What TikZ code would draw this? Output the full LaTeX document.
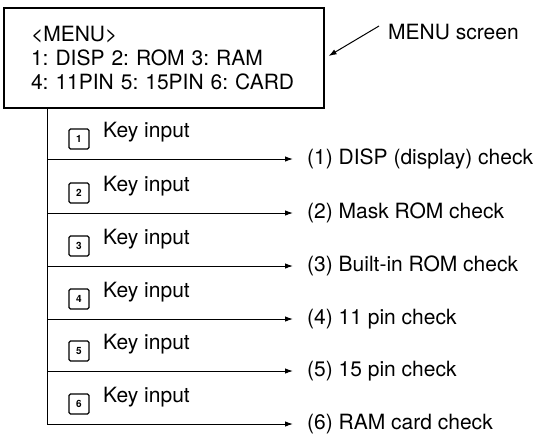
\documentclass[tikz,border=0pt]{standalone}
\usepackage{fontspec}
\setmainfont{TeX Gyre Heros}
\usetikzlibrary{arrows.meta}
\frenchspacing

\begin{document}
\begin{tikzpicture}[x=1pt, y=-1pt, % Scale to match pixel units
    txt/.style={font=\fontsize{21}{24}\selectfont, inner sep=0pt},
    keybox/.style={draw, line width=1.1pt, rounded corners=1.5pt, minimum size=20pt,
        inner sep=0pt, font=\fontsize{10}{12}\selectfont\bfseries},
    flow/.style={line width=1pt, -{Latex[length=8pt,width=5.5pt]}}]

    \useasboundingbox (0,0) rectangle (537,437);

    % Define spine position and row layout
    \def\spine{47}   % x of the vertical line
    \def\tip{293}    % x where the arrows end

    % MENU screen box
    \node[txt, draw, line width=1.2pt, minimum width=320pt, minimum height=100pt,
        align=left, text width=266pt, inner xsep=27pt] (menu) at (164,58)
        {<MENU>\\1: DISP 2: ROM 3: RAM\\4: 11PIN 5: 15PIN 6: CARD};
    \node[txt, anchor=west] (scr) at (388,32) {MENU screen};
    \draw[flow] ([xshift=-9pt,yshift=6pt]scr.west) -- ([xshift=4pt,yshift=2pt]menu.east);

    % Key inputs and checks, one row each
    \foreach \i/\y/\name in {1/159/{(1) DISP (display) check},
                             2/213/{(2) Mask ROM check},
                             3/266/{(3) Built-in ROM check},
                             4/319/{(4) 11 pin check},
                             5/371/{(5) 15 pin check},
                             6/424/{(6) RAM card check}} {
        \node[keybox] (key\i) at (79,\y-20) {\i};
        \node[txt, anchor=west] (inp\i) at (103,\y-27) {Key input};
        \coordinate (src\i) at (\spine,\y);
        \node[txt, anchor=west] (chk\i) at (307,\y) {\name};
        \draw[flow] (src\i) -- (chk\i.west -| \tip,0);
    }

    % Vertical line from the box down to the last row
    \draw[line width=1pt] (menu.south -| \spine,0) -- (src6);

\end{tikzpicture}
\end{document}
